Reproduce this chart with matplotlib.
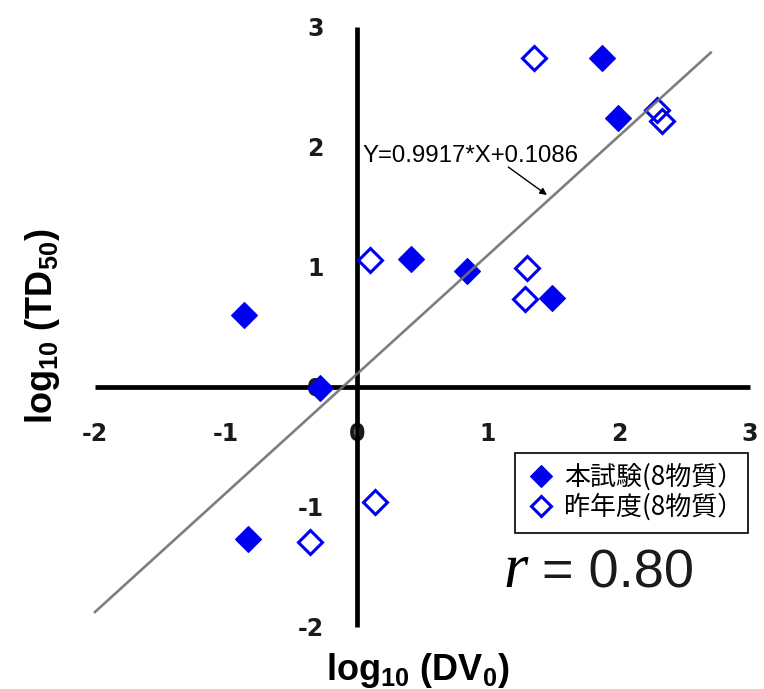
#!/usr/bin/env python3
"""
log10(DV0) vs log10(TD50) scatter with regression line.
"""

import matplotlib
matplotlib.use('Agg')
import matplotlib.pyplot as plt
from matplotlib.patches import Rectangle
import numpy as np

# Data
main_x = [-0.86, -0.28, 0.41, 0.84, 1.49, 1.87, 1.99, -0.83]
main_y = [0.60, -0.01, 1.07, 0.97, 0.74, 2.74, 2.24, -1.27]
prev_x = [0.10, 1.35, 2.29, 2.33, 1.30, 1.28, 0.14, -0.36]
prev_y = [1.06, 2.74, 2.31, 2.22, 0.99, 0.73, -0.96, -1.29]
legend_labels = ['本試験(8物質）', '昨年度(8物質）']
ticks = [-2, -1, 0, 1, 2, 3]
slope = 0.9917
intercept = 0.1086
fit_x = np.array([-2.0, 2.7])

plt.rcParams['axes.unicode_minus'] = False
plt.rcParams['mathtext.fontset'] = 'custom'
plt.rcParams['mathtext.rm'] = 'Liberation Sans:bold'
plt.rcParams['mathtext.bf'] = 'Liberation Sans:bold'

blue = '#0000f0'
W, H = 764, 689


def main():
	fig = plt.figure(figsize=(W/100, H/100), dpi=100)
	ax = fig.add_axes([95/W, 62/H, 655/W, 600/H])
	ax.set_xlim(-2, 3)
	ax.set_ylim(-2, 3)

	for side in ['top', 'right']:
		ax.spines[side].set_visible(False)
	ax.spines['left'].set_position('zero')
	ax.spines['bottom'].set_position('zero')
	for side in ['left', 'bottom']:
		ax.spines[side].set_linewidth(3.4)
		ax.spines[side].set_capstyle('butt')

	ax.set_xticks(ticks)
	ax.set_yticks(ticks)
	ax.set_xticklabels([str(t) for t in ticks])
	ax.set_yticklabels([str(t) for t in ticks])
	tick_font = dict(family='DejaVu Sans', weight='bold', size=17)
	for lab in ax.get_xticklabels() + ax.get_yticklabels():
		lab.set_fontproperties(matplotlib.font_manager.FontProperties(**tick_font))
		lab.set_color('#1a1a1a')
	ax.tick_params(axis='x', length=0, pad=25)
	ax.tick_params(axis='y', length=0, pad=24)

	h1, = ax.plot(main_x, main_y, linestyle='none', marker='D', ms=13.5,
		mfc=blue, mec=blue, mew=0.8, clip_on=False, zorder=3,
		label=legend_labels[0])
	h2, = ax.plot(prev_x, prev_y, linestyle='none', marker='D', ms=12.5,
		mfc='none', mec=blue, mew=2.2, clip_on=False, zorder=3,
		label=legend_labels[1])

	ax.plot(fit_x, slope*fit_x + intercept, color='#707070', lw=1.9,
		alpha=0.9, zorder=4, clip_on=False)

	ax.text(0.04, 1.875, 'Y=0.9917*X+0.1086', fontsize=17.3,
		family='Liberation Sans', color='black',
		ha='left', va='baseline')
	ax.annotate('', xy=(1.45, 1.60), xytext=(1.155, 1.833),
		arrowprops=dict(arrowstyle='-|>', color='black', lw=1.0,
			mutation_scale=10, shrinkA=0, shrinkB=0))

	# legend without its own frame; box drawn separately to get the wider margin
	ax.legend(handles=[h1, h2], loc='upper left',
		bbox_to_anchor=(515/W, 1 - 453/H), bbox_transform=fig.transFigure,
		borderaxespad=0, frameon=False,
		prop=dict(family=['Noto Sans CJK JP', 'DejaVu Sans'], size=18.7),
		markerscale=0.8, borderpad=0.4, handlelength=1.2, handletextpad=0.3,
		labelspacing=0.1)
	fig.patches.append(Rectangle((515/W, 1 - 533/H), 233/W, 80/H,
		transform=fig.transFigure, fill=False, edgecolor='black', lw=1.2,
		zorder=5))

	fig.text(503/W, 1 - 587/H, 'r', fontsize=45, family='Liberation Serif',
		style='italic', color='black', ha='left', va='baseline')
	fig.text(542/W, 1 - 587/H, '= 0.80', fontsize=39, family='Liberation Sans',
		color='#1a1a1a', ha='left', va='baseline')

	fig.text(418/W, 1 - 680/H, r'log$_{10}$ (DV$_{0}$)', fontsize=26,
		family='Liberation Sans', weight='bold', ha='center', va='baseline')
	fig.text(43/W, 1 - 326/H, r'log$_{10}$ (TD$_{50}$)', fontsize=26,
		family='Liberation Sans', weight='bold', ha='center', va='center',
		rotation=90)

	fig.savefig('out.png', dpi=100, facecolor='white')


if __name__ == '__main__':
	main()
